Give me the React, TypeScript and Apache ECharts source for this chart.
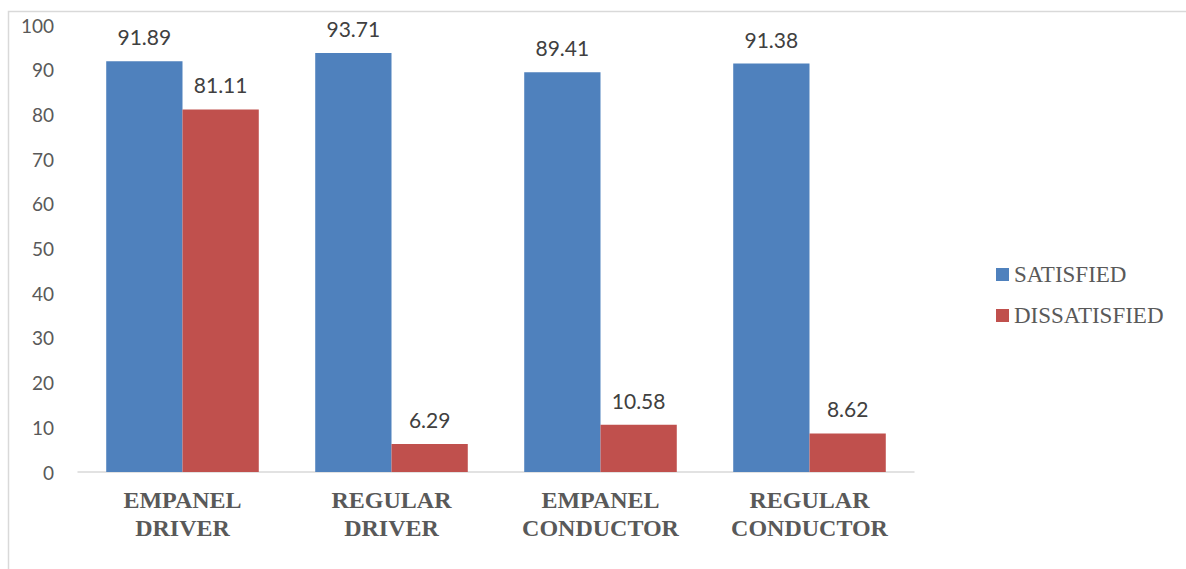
import React, { useEffect, useRef } from "react";
import * as echarts from "echarts";

const categories = ["EMPANEL\nDRIVER", "REGULAR\nDRIVER", "EMPANEL\nCONDUCTOR", "REGULAR\nCONDUCTOR"];
const satisfied = [91.89, 93.71, 89.41, 91.38];
const dissatisfied = [81.11, 6.29, 10.58, 8.62];
const seriesNames = ["SATISFIED", "DISSATISFIED"];

const SERIF = "'Liberation Serif', 'Times New Roman', serif";

export default function App() {
  const ref = useRef<HTMLDivElement>(null);
  useEffect(() => {
    const chart = echarts.init(ref.current!, undefined, { renderer: "svg" });
    const labelStyle = {
      show: true,
      position: "top" as const,
      distance: 14,
      fontFamily: "Lato",
      fontSize: 21,
      color: "#404040",
      formatter: (p: any) => p.value.toFixed(2),
    };
    chart.setOption({
      animation: false,
      backgroundColor: "#ffffff",
      graphic: [
        {
          type: "rect",
          shape: { x: 8.5, y: 11.5, width: 1300, height: 700 },
          style: { fill: "none", stroke: "#d9d9d9", lineWidth: 1.5 },
          silent: true,
        },
      ],
      legend: {
        orient: "vertical",
        left: 991,
        top: 258,
        itemWidth: 13,
        itemHeight: 13,
        itemGap: 18,
        icon: "rect",
        textStyle: { fontFamily: SERIF, fontSize: 23, color: "#595959" },
        data: seriesNames,
      },
      grid: { left: 78, right: 272, top: 25, bottom: 97 },
      xAxis: {
        type: "category",
        data: categories,
        axisLine: { lineStyle: { color: "#d9d9d9", width: 1.5 } },
        axisTick: { show: false },
        axisLabel: {
          fontFamily: SERIF,
          fontWeight: "bold",
          fontSize: 24,
          color: "#595959",
          lineHeight: 28,
          margin: 14,
        },
      },
      yAxis: {
        type: "value",
        min: 0,
        max: 100,
        interval: 10,
        axisLine: { show: false },
        axisTick: { show: false },
        splitLine: { show: false },
        axisLabel: { fontFamily: "Lato", fontSize: 19, color: "#595959", margin: 24 },
      },
      series: [
        {
          name: seriesNames[0],
          type: "bar",
          data: satisfied,
          barGap: "0%",
          barCategoryGap: "27%",
          itemStyle: { color: "#4F81BD" },
          label: labelStyle,
        },
        {
          name: seriesNames[1],
          type: "bar",
          data: dissatisfied,
          itemStyle: { color: "#C0504D" },
          label: labelStyle,
        },
      ],
    });
    return () => chart.dispose();
  }, []);
  return (
    <div
      ref={ref}
      style={{ position: "absolute", left: 0, top: 0, width: 1186, height: 569 }}
    />
  );
}
